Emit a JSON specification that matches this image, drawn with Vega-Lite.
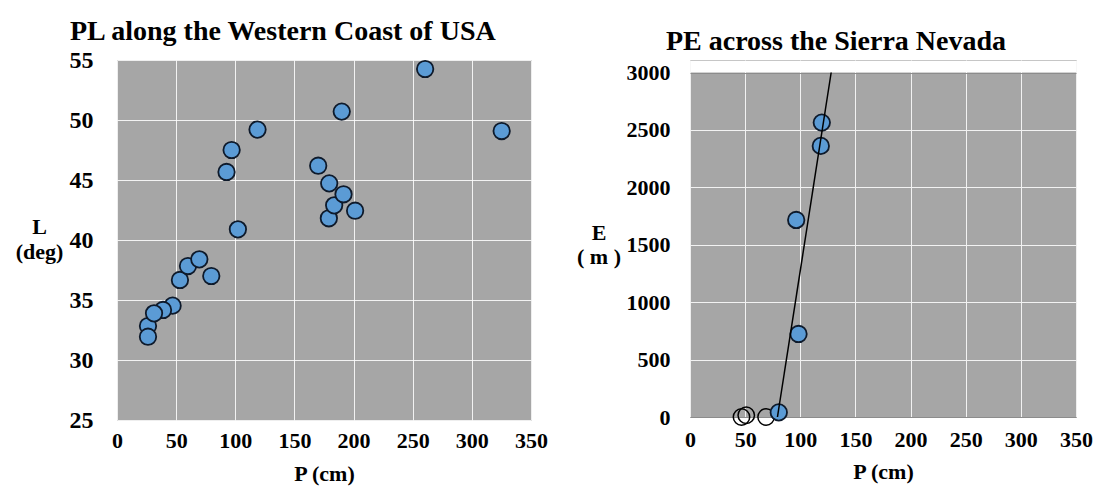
{
  "$schema": "https://vega.github.io/schema/vega-lite/v6.json",
  "padding": {"left": 14, "top": 17, "right": 5, "bottom": 5},
  "background": "white",
  "spacing": 28,
  "datasets": {
    "coast": [
      {"P": 26.2, "L": 32.83}, {"P": 26.2, "L": 31.94}, {"P": 47.0, "L": 34.53}, {"P": 38.9, "L": 34.17},
      {"P": 31.3, "L": 33.89}, {"P": 53.2, "L": 36.67}, {"P": 60.0, "L": 37.83}, {"P": 79.7, "L": 37.0},
      {"P": 69.6, "L": 38.39}, {"P": 102.2, "L": 40.89}, {"P": 179.1, "L": 41.81}, {"P": 201.3, "L": 42.44},
      {"P": 183.6, "L": 42.89}, {"P": 191.5, "L": 43.81}, {"P": 179.4, "L": 44.72}, {"P": 170.1, "L": 46.19},
      {"P": 92.6, "L": 45.67}, {"P": 96.9, "L": 47.5}, {"P": 118.8, "L": 49.2}, {"P": 190.0, "L": 50.7},
      {"P": 325.2, "L": 49.08}, {"P": 260.5, "L": 54.25}
    ],
    "sierraOpen": [
      {"P": 46.7, "E": 0}, {"P": 51.0, "E": 15}, {"P": 69.0, "E": 0}
    ],
    "sierraFilled": [
      {"P": 80.5, "E": 40}, {"P": 98.4, "E": 723}, {"P": 96.3, "E": 1716}, {"P": 118.6, "E": 2361}, {"P": 119.5, "E": 2564}
    ],
    "sierraFit": [
      {"P": 79.3, "E": 0}, {"P": 128.0, "E": 3000}
    ]
  },
  "config": {
    "view": {"fill": "#a6a6a6", "stroke": "#8c8c8c", "strokeWidth": 1},
    "font": "Liberation Serif",
    "axis": {
      "labelFont": "Liberation Serif", "labelFontWeight": "bold", "labelColor": "black", "labelFlush": false,
      "titleFont": "Liberation Serif", "titleFontWeight": "bold", "titleColor": "black",
      "ticks": false, "domain": false, "grid": true, "gridColor": "white", "gridOpacity": 0.85, "gridWidth": 1
    },
    "title": {"font": "Liberation Serif", "fontWeight": "bold", "color": "black", "fontSize": 28, "frame": "bounds", "anchor": "middle"}
  },
  "hconcat": [
    {
      "width": 414,
      "height": 360,
      "title": {"text": "PL along the Western Coast of USA", "offset": 2, "dx": 1.5},
      "data": {"name": "coast"},
      "mark": {"type": "circle", "size": 270, "fill": "#5b9bd5", "stroke": "#0e1a2b", "strokeWidth": 1.8, "opacity": 1},
      "encoding": {
        "x": {
          "field": "P", "type": "quantitative",
          "scale": {"domain": [0, 350], "nice": false, "zero": false},
          "axis": {"values": [0, 50, 100, 150, 200, 250, 300, 350], "title": "P (cm)", "labelFontSize": 22, "titleFontSize": 22, "labelPadding": 10, "titlePadding": 12}
        },
        "y": {
          "field": "L", "type": "quantitative",
          "scale": {"domain": [25, 55], "nice": false, "zero": false},
          "axis": {
            "values": [25, 30, 35, 40, 45, 50, 55], "title": ["L", "(deg)"],
            "titleAngle": 0, "titleAlign": "center", "titleBaseline": "middle",
            "titleX": -78, "titleY": 166, "titleLineHeight": 25,
            "labelFontSize": 24, "labelPadding": 24, "titleFontSize": 22
          }
        }
      }
    },
    {
      "width": 386,
      "height": 357,
      "title": {"text": "PE across the Sierra Nevada", "offset": 4, "dx": 1.5},
      "encoding": {
        "x": {
          "field": "P", "type": "quantitative",
          "scale": {"domain": [0, 350], "nice": false, "zero": false},
          "axis": {"values": [0, 50, 100, 150, 200, 250, 300, 350], "title": "P (cm)", "labelFontSize": 22, "titleFontSize": 22, "labelPadding": 12, "titlePadding": 11}
        },
        "y": {
          "field": "E", "type": "quantitative",
          "scale": {"domain": [0, 3108.9], "nice": false, "zero": false},
          "axis": {
            "values": [0, 500, 1000, 1500, 2000, 2500, 3000, 3057.5],
            "format": "d",
            "labelExpr": "datum.value > 3000 ? '' : datum.label",
            "gridOpacity": 1,
            "gridColor": {"condition": [
              {"test": "datum.value > 3000", "value": "white"},
              {"test": "datum.value == 3000 || datum.value == 0", "value": "#8c8c8c"}
            ], "value": "#f2f2f2"},
            "gridWidth": {"condition": {"test": "datum.value > 3000", "value": 11.8}, "value": 1},
            "title": ["E", "( m )"],
            "titleAngle": 0, "titleAlign": "center", "titleBaseline": "middle",
            "titleX": -91.5, "titleY": 172, "titleLineHeight": 24,
            "labelFontSize": 22, "labelPadding": 20, "titleFontSize": 22
          }
        }
      },
      "layer": [
        {
          "data": {"name": "sierraOpen"},
          "mark": {"type": "point", "shape": "circle", "filled": false, "size": 270, "stroke": "black", "strokeWidth": 1.5, "opacity": 1}
        },
        {
          "data": {"name": "sierraFilled"},
          "mark": {"type": "circle", "size": 270, "fill": "#5b9bd5", "stroke": "#0e1a2b", "strokeWidth": 1.8, "opacity": 1}
        },
        {
          "data": {"name": "sierraFit"},
          "mark": {"type": "line", "color": "black", "strokeWidth": 1.5}
        }
      ]
    }
  ]
}
